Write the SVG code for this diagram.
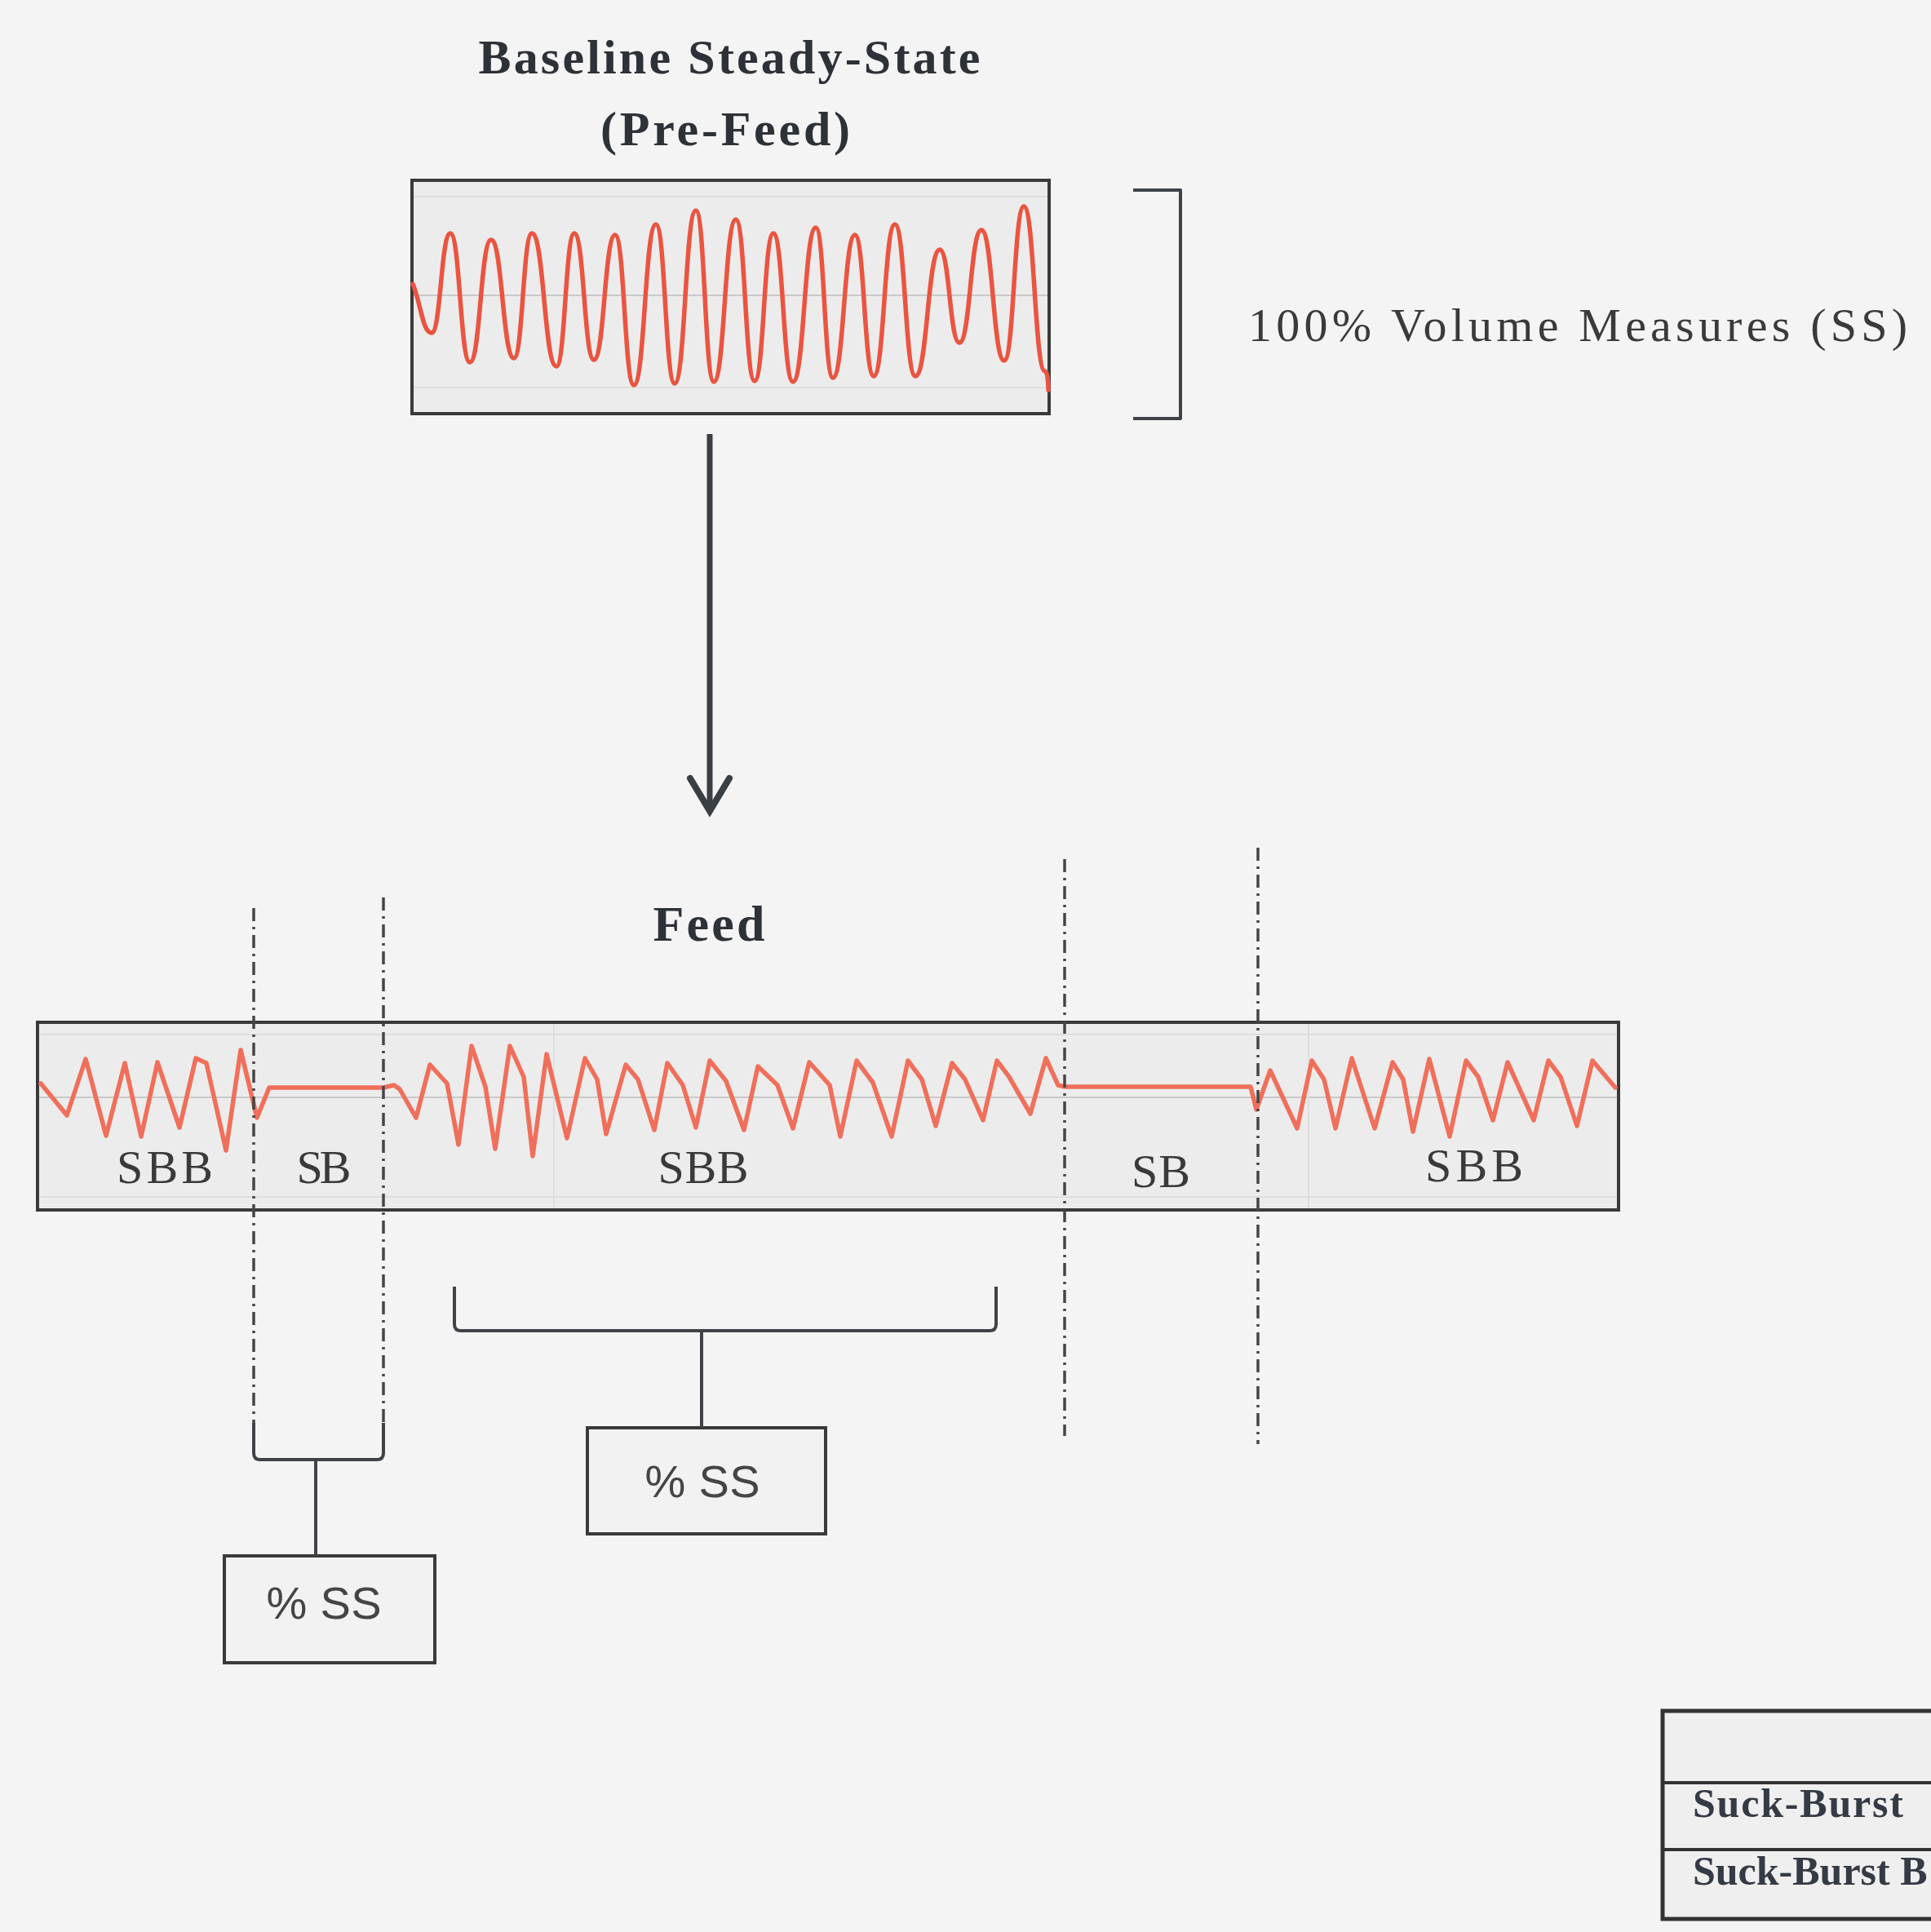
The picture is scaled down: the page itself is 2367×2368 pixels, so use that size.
<svg xmlns="http://www.w3.org/2000/svg" width="2367" height="2368" viewBox="0 0 2367 2368">
<defs>
<style>
.bg{fill:#f4f4f4}
.panel{fill:#ececec;stroke:#3a3a3a;stroke-width:4}
.box{fill:#f2f2f2;stroke:#3a3a3a;stroke-width:4}
.grid{stroke:#c9c9c9;stroke-width:2;fill:none}
.faint{stroke:#dedede;stroke-width:2;fill:none}
.wave{fill:none;stroke:#ea5440;stroke-width:5.5;stroke-linejoin:round;stroke-linecap:round}
.wave2{fill:none;stroke:#f06f5b;stroke-width:5.5;stroke-linejoin:round;stroke-linecap:round}
.title{font-family:"Liberation Serif",serif;font-weight:bold;fill:#2d3238}
.lbl{font-family:"Liberation Serif",serif;fill:#3a3a3a;font-size:58px}
.pct{font-family:"Liberation Sans",sans-serif;fill:#454545;font-size:56px}
.tbl{font-family:"Liberation Serif",serif;fill:#353b44;font-size:50px;font-weight:bold}
.dash{stroke:#454545;stroke-width:3.5;fill:none;stroke-dasharray:16 7 3 7}
.line{stroke:#3f4348;stroke-width:4;fill:none;stroke-linejoin:round}
</style>
<marker id="arrow" viewBox="-50 -30 60 60" refX="0" refY="0" markerWidth="60" markerHeight="60" markerUnits="userSpaceOnUse" orient="auto" overflow="visible">
<path d="M-40,-24 L0,0 L-40,24" fill="none" stroke="#3a3f44" stroke-width="8" stroke-linejoin="miter" stroke-linecap="round"/>
</marker>
</defs>
<rect class="bg" x="0" y="0" width="2367" height="2368"/>

<g id="baseline-title">
<text class="title" x="894" y="90" font-size="60" text-anchor="middle" textLength="615" lengthAdjust="spacing">Baseline Steady-State</text>
<text class="title" x="889" y="178" font-size="60" text-anchor="middle" textLength="306" lengthAdjust="spacing">(Pre-Feed)</text>
</g>

<g id="baseline-box">
<rect class="panel" x="505" y="221" width="781" height="286"/>
<line class="faint" x1="507" y1="241" x2="1284" y2="241"/>
<line class="grid" x1="507" y1="362" x2="1284" y2="362"/>
<line class="faint" x1="507" y1="475" x2="1284" y2="475"/>
<path class="wave" d="M506,348 C516,372 518,408 529,408 C540.5,408 540.5,286 552,286 C564,286 564,444 576,444 C589,444 589,294 602,294 C616,294 616,439 630,439 C641,439 641,286 652,286 C667,286 667,449 682,449 C693,449 693,286 704,286 C716,286 716,441 728,441 C741,441 741,288 754,288 C765.5,288 765.5,472 777,472 C790.5,472 790.5,275 804,275 C815.5,275 815.5,470 827,470 C840,470 840,258 853,258 C864,258 864,468 875,468 C888.5,468 888.5,269 902,269 C913.5,269 913.5,467 925,467 C936.5,467 936.5,286 948,286 C960,286 960,468 972,468 C986,468 986,279 1000,279 C1010.5,279 1010.5,463 1021,463 C1034.5,463 1034.5,288 1048,288 C1059.5,288 1059.5,461 1071,461 C1084,461 1084,275 1097,275 C1109.5,275 1109.5,461 1122,461 C1137,461 1137,306 1152,306 C1164,306 1164,420 1176,420 C1189.5,420 1189.5,282 1203,282 C1217,282 1217,442 1231,442 C1243,442 1243,253 1255,253 C1268,253 1268,455 1281,455 C1284,455 1285,468 1285,478"/>
</g>

<g id="volume-label">
<path class="line" d="M1389,233 L1447,233 L1447,513 L1389,513" stroke-width="5"/>
<text class="lbl" x="1530" y="418" font-size="66" textLength="808" lengthAdjust="spacing">100% Volume Measures (SS)</text>
</g>

<g id="feed-title">
<text class="title" x="869" y="1153" font-size="62" text-anchor="middle" textLength="137" lengthAdjust="spacing">Feed</text>
</g>

<g id="feed-box">
<rect class="panel" x="46" y="1253" width="1938" height="230"/>
<line class="faint" x1="48" y1="1268" x2="1982" y2="1268"/>
<line class="grid" x1="48" y1="1345" x2="1982" y2="1345"/>
<line class="faint" x1="48" y1="1467" x2="1982" y2="1467"/>
<line class="faint" x1="679" y1="1255" x2="679" y2="1481"/>
<line class="faint" x1="1604" y1="1255" x2="1604" y2="1481"/>
<polyline class="wave2" points="50,1328 82,1367 105,1298 130,1392 153,1303 173,1393 193,1302 220,1382 240,1297 253,1303 277,1410 295,1287 315,1370 330,1333 470,1333 483,1330 490,1335 510,1370 527,1305 548,1328 562,1403 578,1282 595,1332 607,1408 625,1282 642,1320 653,1417 670,1292 695,1395 717,1297 732,1323 743,1390 767,1305 782,1323 802,1385 818,1303 837,1330 853,1382 870,1300 890,1325 912,1385 929,1307 953,1330 972,1383 992,1302 1017,1330 1030,1393 1050,1300 1070,1327 1093,1393 1113,1300 1130,1323 1147,1380 1167,1303 1183,1323 1205,1373 1222,1300 1237,1320 1263,1365 1282,1297 1297,1330 1305,1332 1533,1332 1540,1360 1557,1312 1590,1383 1608,1300 1623,1323 1637,1383 1657,1297 1685,1383 1707,1302 1720,1323 1732,1387 1752,1298 1777,1393 1797,1300 1812,1320 1830,1373 1848,1302 1880,1373 1898,1300 1913,1320 1933,1380 1952,1300 1980,1333"/>
<text class="lbl" x="202" y="1450" text-anchor="middle" textLength="118" lengthAdjust="spacing">SBB</text>
<text class="lbl" x="397" y="1450" text-anchor="middle" textLength="67" lengthAdjust="spacing">SB</text>
<text class="lbl" x="862" y="1450" text-anchor="middle" textLength="111" lengthAdjust="spacing">SBB</text>
<text class="lbl" x="1423" y="1455" text-anchor="middle" textLength="72" lengthAdjust="spacing">SB</text>
<text class="lbl" x="1807" y="1448" text-anchor="middle" textLength="120" lengthAdjust="spacing">SBB</text>
</g>

<g id="ss-box-1">
<rect class="box" x="275" y="1907" width="258" height="131"/>
<text class="pct" x="397" y="1984" text-anchor="middle" textLength="141" lengthAdjust="spacing">% SS</text>
</g>

<g id="ss-box-2">
<rect class="box" x="720" y="1750" width="292" height="130"/>
<text class="pct" x="861" y="1835" text-anchor="middle" textLength="141" lengthAdjust="spacing">% SS</text>
</g>

<g id="legend-table">
<rect x="2038" y="2097" width="340" height="255" fill="#efefef" stroke="#333" stroke-width="5"/>
<line x1="2038" y1="2185" x2="2367" y2="2185" stroke="#333" stroke-width="4"/>
<line x1="2038" y1="2267" x2="2367" y2="2267" stroke="#333" stroke-width="4"/>
<text class="tbl" x="2075" y="2227" textLength="258" lengthAdjust="spacing">Suck-Burst</text>
<text class="tbl" x="2075" y="2310">Suck-Burst B</text>
</g>

<g id="connectors">
<line x1="870" y1="532" x2="870" y2="994" stroke="#3a3f44" stroke-width="7" marker-end="url(#arrow)"/>
<line class="dash" x1="311" y1="1113" x2="311" y2="1746"/>
<line class="dash" x1="470" y1="1100" x2="470" y2="1746"/>
<line class="dash" x1="1305" y1="1053" x2="1305" y2="1760"/>
<line class="dash" x1="1542" y1="1039" x2="1542" y2="1770"/>
<path class="line" d="M311,1744 L311,1781 Q311,1789 319,1789 L462,1789 Q470,1789 470,1781 L470,1744"/>
<line class="line" x1="387" y1="1789" x2="387" y2="1907"/>
<path class="line" d="M557,1577 L557,1623 Q557,1631 565,1631 L1213,1631 Q1221,1631 1221,1623 L1221,1577"/>
<line class="line" x1="860" y1="1631" x2="860" y2="1750"/>
</g>
</svg>
